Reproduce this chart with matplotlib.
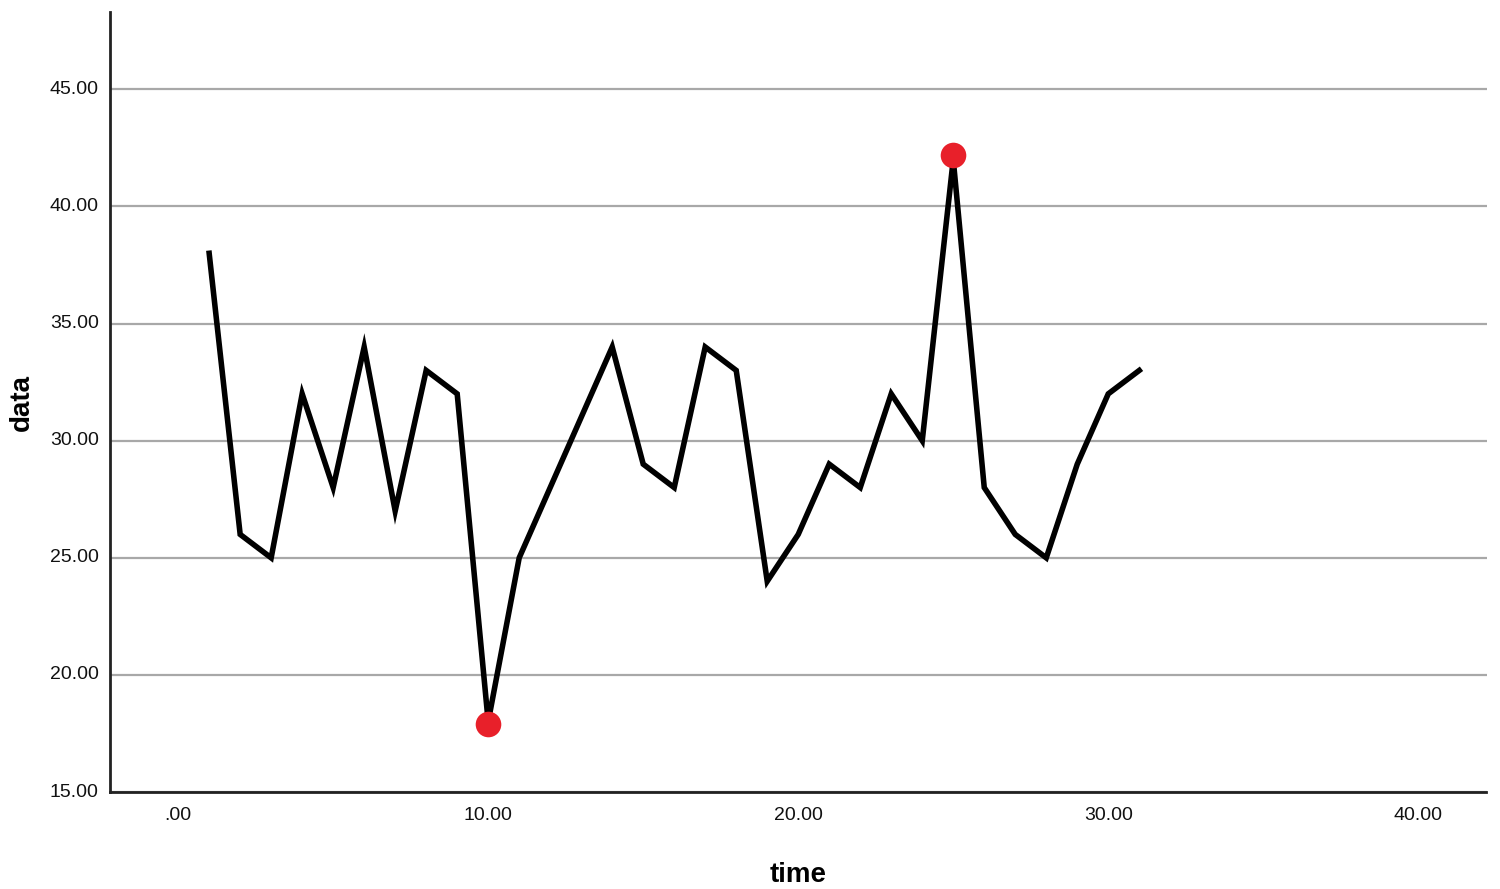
import matplotlib
matplotlib.use("Agg")
import matplotlib.pyplot as plt
from matplotlib.ticker import FuncFormatter

# time series values
time = list(range(1, 32))
data = [38, 26, 25, 32, 28, 34, 27, 33, 32, 18,
        25, 28, 31, 34, 29, 28, 34, 33, 24, 26,
        29, 28, 32, 30, 42, 28, 26, 25, 29, 32, 33]

# highlighted extremes
mark_time = [10, 25]
mark_data = [17.9, 42.2]

x_ticks = [0, 10, 20, 30, 40]
y_ticks = [15, 20, 25, 30, 35, 40, 45]

plt.rcParams['font.family'] = ['Liberation Sans', 'DejaVu Sans']

fig = plt.figure(figsize=(15, 8.89), dpi=100)
ax = fig.add_axes([0.0733, 0.109, 0.9177, 0.8775])

ax.plot(time, data, color='black', linewidth=4, solid_joinstyle='miter', zorder=3)
ax.scatter(mark_time, mark_data, s=340, color='#e8202a', marker='o', zorder=4, linewidths=0)

ax.set_xlim(-2.2, 42.2)
ax.set_ylim(15, 48.3)
ax.set_xticks(x_ticks)
ax.set_yticks(y_ticks)


def fmt(v, pos):
    s = f"{v:.2f}"
    return s[1:] if s.startswith("0.") else s


ax.xaxis.set_major_formatter(FuncFormatter(fmt))
ax.yaxis.set_major_formatter(FuncFormatter(fmt))
ax.tick_params(length=0, labelsize=14, colors='#111111')
ax.tick_params(axis='x', pad=11)
ax.tick_params(axis='y', pad=8)
for lbl in ax.get_yticklabels():
    lbl.set_verticalalignment('center')

ax.grid(axis='y', color='#a8a8a8', linewidth=1.6)
ax.set_axisbelow(True)
for side in ['top', 'right']:
    ax.spines[side].set_visible(False)
for side in ['left', 'bottom']:
    ax.spines[side].set_linewidth(2)
    ax.spines[side].set_color('#222222')

ax.set_xlabel('time', fontsize=20, fontweight='bold', labelpad=27)
ax.set_ylabel('data', fontsize=20, fontweight='bold', labelpad=11)

fig.savefig('out.png', dpi=100)
